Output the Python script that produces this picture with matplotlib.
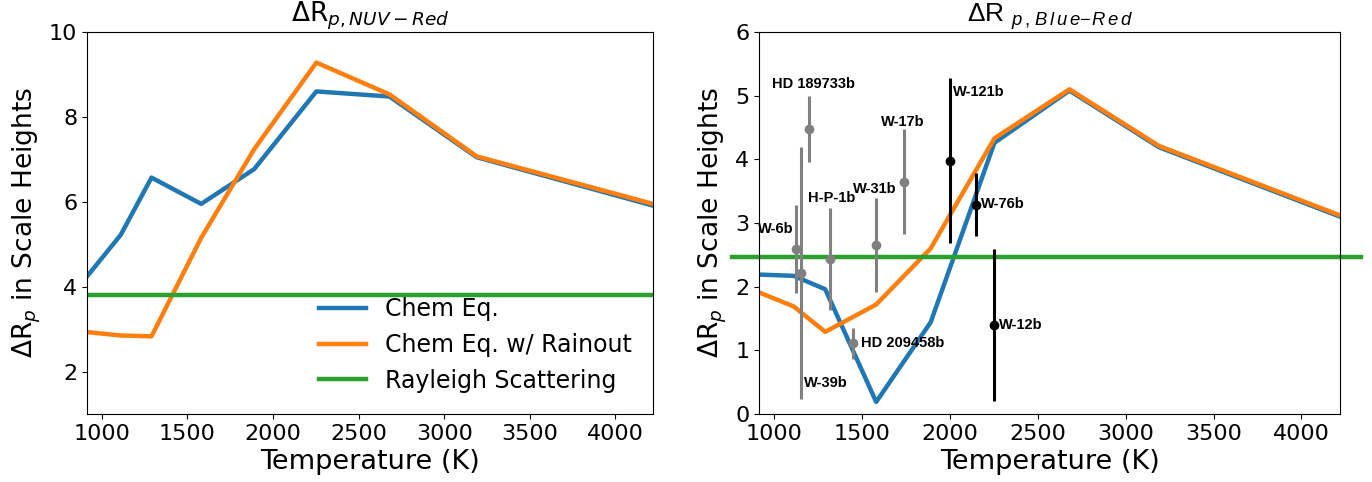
import matplotlib
matplotlib.use('Agg')
import matplotlib.pyplot as plt
import numpy as np

# model grid (temperature in K) and transit depth differences in scale heights
temps = [913, 1110, 1290, 1580, 1890, 2253, 2680, 3190, 4220]
nuv_eq = [4.24, 5.22, 6.57, 5.95, 6.77, 8.60, 8.48, 7.05, 5.91]
nuv_rain = [2.93, 2.85, 2.83, 5.15, 7.24, 9.28, 8.53, 7.07, 5.95]
nuv_ray = 3.81
blue_eq = [2.19, 2.17, 1.96, 0.19, 1.44, 4.26, 5.08, 4.19, 3.10]
blue_rain = [1.91, 1.69, 1.29, 1.72, 2.60, 4.33, 5.10, 4.21, 3.12]
blue_ray = 2.47
ray_span = [760, 4340]

# observed planets
names = ['HD 189733b', 'W-6b', 'W-39b', 'H-P-1b', 'HD 209458b',
         'W-31b', 'W-17b', 'W-121b', 'W-76b', 'W-12b']
obs_T = [1199, 1122, 1150, 1319, 1450, 1579, 1738, 2000, 2148, 2251]
obs_v = [4.48, 2.59, 2.21, 2.44, 1.11, 2.66, 3.65, 3.98, 3.29, 1.40]
obs_err = [0.52, 0.69, 1.98, 0.80, 0.24, 0.74, 0.82, 1.29, 0.49, 1.19]
obs_col = ['gray'] * 7 + ['black'] * 3
# label anchor (left edge, centre) in data coords
lab_T = [985, 908, 1169, 1190, 1492, 1448, 1606, 2015, 2175, 2279]
lab_v = [5.18, 2.91, 0.49, 3.39, 1.12, 3.53, 4.58, 5.05, 3.30, 1.40]

plt.rcParams['mathtext.rm'] = 'Liberation Sans'
plt.rcParams['mathtext.it'] = 'Liberation Sans:italic'
plt.rcParams['mathtext.bf'] = 'Liberation Sans:bold'

fig = plt.figure(figsize=(13.72, 4.82), dpi=100)
ax1 = fig.add_axes([87/1372, 68/482, 566/1372, 382/482])
ax2 = fig.add_axes([759/1372, 68/482, 581/1372, 382/482])

lw = 3.2
ax1.plot(temps, nuv_eq, color='C0', lw=lw, label='Chem Eq.')
ax1.plot(temps, nuv_rain, color='C1', lw=lw, label='Chem Eq. w/ Rainout')
ax1.axhline(nuv_ray, color='C2', lw=lw, label='Rayleigh Scattering')
ax1.set_xlim(913, 4220)
ax1.set_ylim(1, 10)
ax1.set_yticks([2, 4, 6, 8, 10])
ax1.set_xlabel('Temperature (K)', fontsize=19.5)
ax1.set_ylabel(r'ΔR$_p$ in Scale Heights', fontsize=19)
ax1.set_title(r'ΔR$_{p, NUV-Red}$', fontsize=19)
ax1.tick_params(labelsize=16)
ax1.legend(loc='lower right', frameon=False, fontsize=17)

ax2.plot(temps, blue_eq, color='C0', lw=lw)
ax2.plot(temps, blue_rain, color='C1', lw=lw)
ax2.plot(ray_span, [blue_ray, blue_ray], color='C2', lw=lw, clip_on=False)
for i in range(len(names)):
    ax2.errorbar(obs_T[i], obs_v[i], yerr=obs_err[i], fmt='o', color=obs_col[i],
                 ms=6, elinewidth=2.2, capsize=0, zorder=4)
    ax2.text(lab_T[i], lab_v[i], names[i], fontsize=10.5, fontweight='bold',
             family='Liberation Sans', ha='left', va='center', zorder=5)
ax2.set_xlim(913, 4220)
ax2.set_ylim(0, 6)
ax2.set_xlabel('Temperature (K)', fontsize=19.5)
ax2.set_ylabel(r'ΔR$_p$ in Scale Heights', fontsize=19)
t2 = ax2.set_title(r'ΔR $_{p\,,\,B\,l\,u\,e\!-\!R\,e\,d}$', fontsize=19,
                   family='Liberation Sans')
t2.set_math_fontfamily('custom')
ax2.tick_params(labelsize=16)

fig.savefig('out.png', dpi=100)
